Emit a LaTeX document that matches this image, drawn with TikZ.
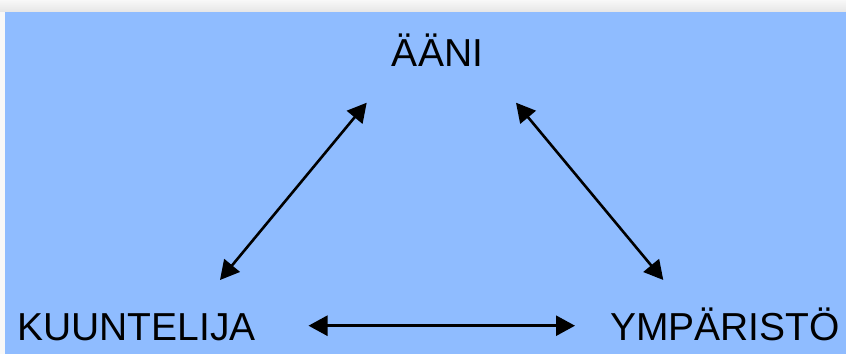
\documentclass[tikz,border=0pt]{standalone}
\usepackage{fontspec}
\setmainfont{Liberation Sans}
\usetikzlibrary{arrows.meta}
\definecolor{panelblue}{RGB}{143,188,255}
\definecolor{shadowgray}{RGB}{230,230,230}
\definecolor{framewhite}{RGB}{248,248,248}
\tikzset{
  label text/.style={inner sep=0pt, font=\fontsize{39}{41}\selectfont, text=black},
  relation/.style={line width=2.6pt, {Triangle[length=19pt,width=20pt]}-{Triangle[length=19pt,width=20pt]}},
}
\begin{document}
\begin{tikzpicture}[x=1pt,y=1pt]
  \useasboundingbox (0,0) rectangle (846,354);
  % frame and its soft top shadow
  \fill[framewhite] (0,0) rectangle (846,354);
  \shade[top color=framewhite, bottom color=shadowgray] (0,342) rectangle (846,354);
  % blue panel
  \fill[panelblue] (5,0) rectangle (846,342);

  % the three concepts
  \node[label text, anchor=base] (aani) at (437.5,287) {ÄÄNI};
  \node[label text, anchor=base west] (kuuntelija) at (17,14) {KUUNTELIJA};
  \node[label text, anchor=base east] (ymparisto) at (840,14) {YMPÄRISTÖ};

  % arrow end points
  \coordinate (a1) at (366.7,251.3);
  \coordinate (k1) at (220,74);
  \coordinate (a2) at (516,251.3);
  \coordinate (y1) at (663.3,74);
  \coordinate (k2) at (308.5,28.3);
  \coordinate (y2) at (575,28.3);

  \draw[relation] (k1) -- (a1);
  \draw[relation] (a2) -- (y1);
  \draw[relation] (k2) -- (y2);
\end{tikzpicture}
\end{document}
